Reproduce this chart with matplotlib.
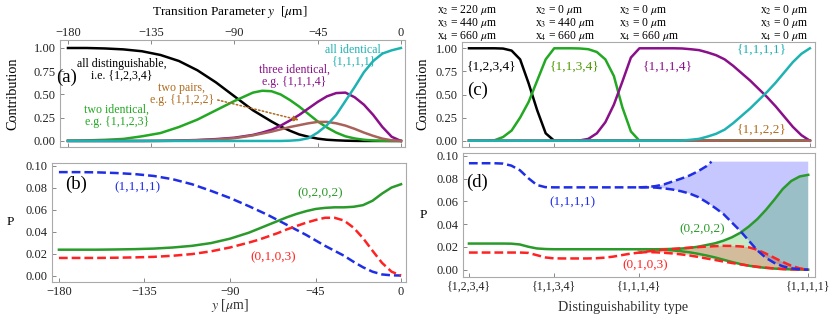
import numpy as np
import matplotlib
matplotlib.use('Agg')
import matplotlib.pyplot as plt
from matplotlib.ticker import FormatStrFormatter

plt.rcParams['font.family'] = ['Liberation Serif', 'DejaVu Serif']
plt.rcParams['mathtext.fontset'] = 'stix'

W, H = 830, 320

# ---- (a) and (b): transition parameter y [um]
y_um = [-180, -170, -160, -150, -140, -130, -120, -110, -100, -90, -80,
        -75, -70, -65, -60, -55, -50, -45, -40, -35, -30, -25, -20, -15, -10, -5, 0]

# contributions of the distinguishability classes
black_a = [1.0, 1.0, 0.995, 0.985, 0.965, 0.925, 0.86, 0.76, 0.63, 0.48, 0.33,
           0.27, 0.21, 0.155, 0.11, 0.07, 0.045, 0.025, 0.013, 0.007, 0.003, 0.001, 0, 0, 0, 0, 0]
green_a = [0.003, 0.006, 0.012, 0.022, 0.05, 0.085, 0.15, 0.23, 0.33, 0.43, 0.52,
           0.54, 0.535, 0.5, 0.44, 0.37, 0.29, 0.21, 0.145, 0.09, 0.05, 0.027, 0.013, 0.005, 0.002, 0.0005, 0]
purple_a = [0, 0, 0, 0, 0, 0.002, 0.005, 0.01, 0.02, 0.035, 0.065,
            0.09, 0.12, 0.165, 0.22, 0.28, 0.35, 0.42, 0.48, 0.515, 0.52, 0.47, 0.39, 0.28, 0.15, 0.045, 0]
brown_a = [0, 0, 0, 0, 0, 0, 0.003, 0.008, 0.015, 0.03, 0.06,
           0.08, 0.1, 0.125, 0.15, 0.17, 0.19, 0.205, 0.205, 0.19, 0.165, 0.13, 0.09, 0.055, 0.025, 0.007, 0]
cyan_a = [0, 0, 0, 0, 0, 0, 0, 0, 0, 0, 0,
          0, 0, 0, 0.003, 0.01, 0.03, 0.09, 0.17, 0.28, 0.43, 0.58, 0.74, 0.86, 0.94, 0.975, 1.0]

# output probabilities P
blue_b = [0.094, 0.094, 0.0938, 0.0932, 0.0922, 0.0905, 0.0875, 0.083, 0.077, 0.0705, 0.063,
          0.059, 0.055, 0.0505, 0.046, 0.0415, 0.037, 0.032, 0.027, 0.0225, 0.018, 0.0125, 0.0075, 0.0035, 0.001, 0.0002, 0]
green_b = [0.0235, 0.0235, 0.0235, 0.0237, 0.024, 0.0245, 0.0255, 0.027, 0.0295, 0.0335, 0.039,
           0.0425, 0.046, 0.0495, 0.053, 0.056, 0.0585, 0.0605, 0.0615, 0.062, 0.062, 0.0625, 0.064, 0.068, 0.0745, 0.08, 0.083]
red_b = [0.016, 0.016, 0.016, 0.0162, 0.0165, 0.017, 0.018, 0.0195, 0.022, 0.0255, 0.03,
         0.0325, 0.0355, 0.0385, 0.042, 0.045, 0.048, 0.0505, 0.0525, 0.0525, 0.05, 0.0435, 0.034, 0.0225, 0.0115, 0.0035, 0]

# ---- (c) and (d): distinguishability type axis
u = [0.0, 0.1, 0.2, 0.3, 0.4, 0.5, 0.6, 0.7, 0.8, 0.9,
     1.0, 1.1, 1.2, 1.3, 1.4, 1.5, 1.6, 1.7, 1.8, 1.9,
     2.0, 2.1, 2.2, 2.3, 2.4, 2.5, 2.6, 2.7, 2.8, 2.9,
     3.0, 3.1, 3.2, 3.3, 3.4, 3.5, 3.6, 3.7, 3.8, 3.9, 4.0]
type_ticks = [0, 1, 2, 4]
type_labels = ['{1,2,3,4}', '{1,1,3,4}', '{1,1,1,4}', '{1,1,1,1}']
top_x2 = [220, 0, 0, 0]
top_x3 = [440, 440, 0, 0]
top_x4 = [660, 660, 660, 0]

black_c = [1.0, 1.0, 1.0, 1.0, 0.997, 0.975, 0.88, 0.62, 0.33, 0.08,
           0, 0, 0, 0, 0, 0, 0, 0, 0, 0,
           0, 0, 0, 0, 0, 0, 0, 0, 0, 0,
           0, 0, 0, 0, 0, 0, 0, 0, 0, 0, 0]
green_c = [0, 0, 0, 0.005, 0.04, 0.11, 0.25, 0.42, 0.65, 0.88,
           1.0, 1.0, 1.0, 0.998, 0.99, 0.96, 0.88, 0.7, 0.36, 0.1,
           0, 0, 0, 0, 0, 0, 0, 0, 0, 0,
           0, 0, 0, 0, 0, 0, 0, 0, 0, 0, 0]
purple_c = [0, 0, 0, 0, 0, 0, 0, 0, 0, 0,
            0, 0, 0, 0.003, 0.02, 0.08, 0.2, 0.39, 0.64, 0.9,
            1.0, 1.0, 1.0, 1.0, 1.0, 0.998, 0.99, 0.98, 0.955, 0.925,
            0.88, 0.81, 0.73, 0.65, 0.56, 0.47, 0.37, 0.26, 0.15, 0.06, 0.0]
cyan_c = [0, 0, 0, 0, 0, 0, 0, 0, 0, 0,
          0, 0, 0, 0, 0, 0, 0, 0, 0, 0,
          0, 0, 0, 0, 0, 0.002, 0.01, 0.02, 0.045, 0.075,
          0.12, 0.19, 0.27, 0.35, 0.44, 0.53, 0.63, 0.74, 0.85, 0.94, 1.0]
brown_c = [0, 0, 0, 0, 0, 0, 0, 0, 0, 0,
           0, 0, 0, 0, 0, 0, 0, 0, 0, 0,
           0, 0, 0, 0, 0, 0, 0, 0, 0, 0,
           0.002, 0.002, 0.003, 0.003, 0.003, 0.003, 0.003, 0.002, 0.002, 0.001, 0.0]

blue_d = [0.0936, 0.0936, 0.0936, 0.0936, 0.0933, 0.0915, 0.0875, 0.0805, 0.0745, 0.0726,
          0.0724, 0.0724, 0.0724, 0.0724, 0.0724, 0.0724, 0.0724, 0.0724, 0.0724, 0.0724,
          0.0724, 0.0724, 0.0722, 0.0715, 0.0705, 0.069, 0.067, 0.064, 0.0595, 0.0545,
          0.049, 0.0415, 0.034, 0.0255, 0.017, 0.0105, 0.006, 0.003, 0.0012, 0.0004, 0.0]
blue_up_u = [2.0, 2.1, 2.2, 2.3, 2.4, 2.5, 2.6, 2.7, 2.8, 2.86]
blue_up = [0.0724, 0.0727, 0.0735, 0.075, 0.0775, 0.080, 0.0828, 0.0865, 0.091, 0.095]
blue_fill_top = 0.095

green_d = [0.023, 0.023, 0.023, 0.023, 0.023, 0.0229, 0.0222, 0.0202, 0.0187, 0.0182,
           0.018, 0.018, 0.018, 0.018, 0.018, 0.018, 0.018, 0.018, 0.018, 0.018,
           0.018, 0.018, 0.018, 0.0181, 0.0183, 0.0186, 0.0192, 0.0202, 0.0217, 0.0232,
           0.0255, 0.0285, 0.0325, 0.038, 0.0445, 0.0525, 0.0615, 0.071, 0.078, 0.082, 0.0834]
green_low = [0.018, 0.018, 0.0177, 0.0175, 0.017, 0.0162, 0.0153, 0.014, 0.0125, 0.0108,
             0.0088, 0.0068, 0.005, 0.0035, 0.0024, 0.0016, 0.001, 0.0006, 0.0003, 0.0001, 0.0]

red_d = [0.0151, 0.0151, 0.0151, 0.0151, 0.0151, 0.0151, 0.0151, 0.0148, 0.0128, 0.0108,
         0.01, 0.0099, 0.0099, 0.0099, 0.0099, 0.0101, 0.0106, 0.0115, 0.0128, 0.0141,
         0.015, 0.016, 0.0168, 0.0176, 0.0182, 0.0188, 0.0194, 0.0199, 0.0203, 0.0207,
         0.021, 0.0209, 0.0205, 0.0197, 0.0175, 0.0142, 0.0105, 0.0068, 0.0035, 0.0012, 0.0]
red_low = [0.015, 0.0155, 0.0153, 0.0149, 0.0143, 0.0135, 0.0125, 0.0113, 0.0099, 0.0086,
           0.0072, 0.0059, 0.0047, 0.0036, 0.0026, 0.0018, 0.0011, 0.0006, 0.0003, 0.0001, 0.0]

C_BLACK = '#000000'
C_GREEN = '#22a822'
C_PURPLE = '#8a108a'
C_BROWN = '#a8625a'
C_BROWN_TXT = '#b06a1c'
C_CYAN = '#1fb2b2'
C_BLUE = '#1f2ee6'
C_RED = '#ff2222'
C_GREEN2 = '#2a9a2a'
LW = 1.8
DASH = (3.5, 1.6)
FS_NOTE = 8.6
FS_TICK = 9


def pxAxes(fig, left, top, right, bottom):
    """axes from pixel frame edges"""
    return fig.add_axes([left / W, 1 - bottom / H, (right - left) / W, (bottom - top) / H])


def figText(fig, px, py, s, **kw):
    fig.text(px / W, 1 - py / H, s, ha=kw.pop('ha', 'center'), va=kw.pop('va', 'center'), **kw)


def styleAxes(ax):
    for sp in ax.spines.values():
        sp.set_color('#aaaaaa')
        sp.set_linewidth(0.8)
    ax.tick_params(direction='in', length=3, width=0.7, color='#888888',
                   labelsize=FS_TICK, labelcolor='#222222', pad=3)


def main():
    fig = plt.figure(figsize=(W / 100, H / 100), dpi=100)

    # ---- (a)
    ax_a = pxAxes(fig, 60, 40, 405, 147)
    ax_a.plot(y_um, black_a, color=C_BLACK, lw=LW)
    ax_a.plot(y_um, green_a, color=C_GREEN, lw=LW)
    ax_a.plot(y_um, purple_a, color=C_PURPLE, lw=LW)
    ax_a.plot(y_um, brown_a, color=C_BROWN, lw=LW)
    ax_a.plot(y_um, cyan_a, color=C_CYAN, lw=LW)
    ax_a.set_xlim(-184.3, 2.2)
    ax_a.set_ylim(-0.065, 1.086)
    ax_a.set_xticks([-180, -135, -90, -45, 0])
    ax_a.set_yticks([0, 0.25, 0.5, 0.75, 1.0])
    ax_a.yaxis.set_major_formatter(FormatStrFormatter('%.2f'))
    styleAxes(ax_a)
    ax_a.tick_params(axis='x', top=True, labeltop=True, bottom=True, labelbottom=False, pad=0.8)
    ax_a.text(-180.5, 0.68, '(a)', fontsize=13.5, ha='center', va='center')
    ax_a.text(-151, 0.765, 'all distinguishable,\ni.e. {1,2,3,4}', fontsize=FS_NOTE,
              ha='center', va='center', linespacing=1.05)
    ax_a.text(-118.4, 0.505, 'two pairs,\ne.g. {1,1,2,2}', fontsize=FS_NOTE, color=C_BROWN_TXT,
              ha='center', va='center', linespacing=1.05)
    ax_a.text(-153.5, 0.27, 'two identical,\ne.g. {1,1,2,3}', fontsize=FS_NOTE, color=C_GREEN,
              ha='center', va='center', linespacing=1.05)
    ax_a.text(-57.8, 0.70, 'three identical,\ne.g. {1,1,1,4}', fontsize=FS_NOTE, color=C_PURPLE,
              ha='center', va='center', linespacing=1.05)
    ax_a.text(-25.4, 0.914, 'all identical,\n{1,1,1,1}', fontsize=FS_NOTE, color=C_CYAN,
              ha='center', va='center', linespacing=1.05)
    ax_a.annotate('', xy=(-53.7, 0.218), xytext=(-100.5, 0.448),
                  arrowprops=dict(arrowstyle='-|>', color=C_BROWN_TXT, lw=1.1,
                                  linestyle=(0, (1, 1.5)), mutation_scale=8))
    figText(fig, 230, 12, r'Transition Parameter $y$  [$\mu$m]', fontsize=9.6)
    figText(fig, 13, 94, 'Contribution', fontsize=10.3, rotation=90)

    # ---- (b)
    ax_b = pxAxes(fig, 51.7, 163, 406, 281.7)
    ax_b.plot(y_um, blue_b, color=C_BLUE, lw=LW, dashes=DASH)
    ax_b.plot(y_um, green_b, color=C_GREEN2, lw=LW)
    ax_b.plot(y_um, red_b, color=C_RED, lw=LW, dashes=DASH)
    ax_b.set_xlim(-183.8, 2.6)
    ax_b.set_ylim(-0.0056, 0.1023)
    ax_b.set_xticks([-180, -135, -90, -45, 0])
    ax_b.set_yticks([0, 0.02, 0.04, 0.06, 0.08, 0.10])
    ax_b.yaxis.set_major_formatter(FormatStrFormatter('%.2f'))
    styleAxes(ax_b)
    ax_b.text(-171, 0.083, '(b)', fontsize=13.5, ha='center', va='center')
    ax_b.text(-138.6, 0.080, '(1,1,1,1)', fontsize=9.5, color=C_BLUE, ha='center', va='center')
    ax_b.text(-42.5, 0.075, '(0,2,0,2)', fontsize=9.5, color=C_GREEN2, ha='center', va='center')
    ax_b.text(-67.2, 0.017, '(0,1,0,3)', fontsize=9.5, color=C_RED, ha='center', va='center')
    figText(fig, 230, 305, r'$y$ [$\mu$m]', fontsize=10, color='#333333')
    figText(fig, 10, 222, 'P', fontsize=9.5)

    # ---- (c)
    ax_c = pxAxes(fig, 462, 42, 815, 147)
    ax_c.plot(u, black_c, color=C_BLACK, lw=LW)
    ax_c.plot(u, green_c, color=C_GREEN, lw=LW)
    ax_c.plot(u, purple_c, color=C_PURPLE, lw=LW)
    ax_c.plot(u, brown_c, color=C_BROWN, lw=LW)
    ax_c.plot(u, cyan_c, color=C_CYAN, lw=LW)
    ax_c.set_xlim(-0.082, 4.06)
    ax_c.set_ylim(-0.068, 1.068)
    ax_c.set_xticks(type_ticks)
    ax_c.set_yticks([0, 0.25, 0.5, 0.75, 1.0])
    ax_c.yaxis.set_major_formatter(FormatStrFormatter('%.2f'))
    styleAxes(ax_c)
    ax_c.tick_params(axis='x', labelbottom=False)
    ax_c.text(0.1, 0.55, '(c)', fontsize=13.5, ha='center', va='center')
    ax_c.text(0.27, 0.80, '{1,2,3,4}', fontsize=9.5, color=C_BLACK, ha='center', va='center')
    ax_c.text(1.24, 0.80, '{1,1,3,4}', fontsize=9.5, color='#4c9a00', ha='center', va='center')
    ax_c.text(2.33, 0.80, '{1,1,1,4}', fontsize=9.5, color=C_PURPLE, ha='center', va='center')
    ax_c.text(3.44, 0.98, '{1,1,1,1}', fontsize=9.5, color=C_CYAN, ha='center', va='center')
    ax_c.text(3.44, 0.116, '{1,1,2,2}', fontsize=9.5, color=C_BROWN_TXT, ha='center', va='center')
    # detector positions above each distinguishability type
    for left, a2, a3, a4 in zip([437, 535, 619, 760], top_x2, top_x3, top_x4):
        block = '\n'.join([r'x$_2$ = %d $\mu$m' % a2,
                           r'x$_3$ = %d $\mu$m' % a3,
                           r'x$_4$ = %d $\mu$m' % a4])
        figText(fig, left, 23, block, fontsize=8.4, ha='left', linespacing=0.88)
    figText(fig, 423, 94, 'Contribution', fontsize=10.3, rotation=90)

    # ---- (d)
    ax_d = pxAxes(fig, 463, 153, 815, 277)
    tail = u.index(2.0)
    bx = blue_up_u + [u[-1]] + u[tail:][::-1]
    by = blue_up + [blue_fill_top] + blue_d[tail:][::-1]
    ax_d.fill(bx, by, color=(0.0, 0.0, 1.0), alpha=0.22, lw=0)
    ax_d.fill(u[tail:] + u[tail:][::-1], green_d[tail:] + green_low[::-1],
              color=(0.0, 0.64, 0.0), alpha=0.22, lw=0)
    ax_d.fill(u[tail:] + u[tail:][::-1], red_d[tail:] + red_low[::-1],
              color=(1.0, 0.1, 0.0), alpha=0.22, lw=0)
    ax_d.plot(u, green_d, color=C_GREEN2, lw=LW)
    ax_d.plot(u[tail:], green_low, color=C_GREEN2, lw=LW)
    ax_d.plot(u, red_d, color=C_RED, lw=LW, dashes=DASH)
    ax_d.plot(u[tail:], red_low, color=C_RED, lw=LW, dashes=DASH)
    ax_d.plot(u, blue_d, color=C_BLUE, lw=LW, dashes=DASH)
    ax_d.plot(blue_up_u, blue_up, color=C_BLUE, lw=LW, dashes=DASH)
    ax_d.set_xlim(-0.07, 4.08)
    ax_d.set_ylim(-0.0064, 0.1026)
    ax_d.set_xticks(type_ticks)
    ax_d.set_xticklabels(type_labels)
    ax_d.set_yticks([0, 0.02, 0.04, 0.06, 0.08, 0.10])
    ax_d.yaxis.set_major_formatter(FormatStrFormatter('%.2f'))
    styleAxes(ax_d)
    ax_d.tick_params(axis='x', labelsize=8.6)
    ax_d.text(0.1, 0.0765, '(d)', fontsize=13.5, ha='center', va='center')
    ax_d.text(1.22, 0.059, '(1,1,1,1)', fontsize=9.5, color=C_BLUE, ha='center', va='center')
    ax_d.text(2.75, 0.0355, '(0,2,0,2)', fontsize=9.5, color=C_GREEN2, ha='center', va='center')
    ax_d.text(2.08, 0.0035, '(0,1,0,3)', fontsize=9.5, color=C_RED, ha='center', va='center')
    figText(fig, 623, 308, 'Distinguishability type', fontsize=10.3, color='#333333')
    figText(fig, 423, 215, 'P', fontsize=9.5)

    fig.savefig('out.png', dpi=100)


if __name__ == "__main__":
    main()
